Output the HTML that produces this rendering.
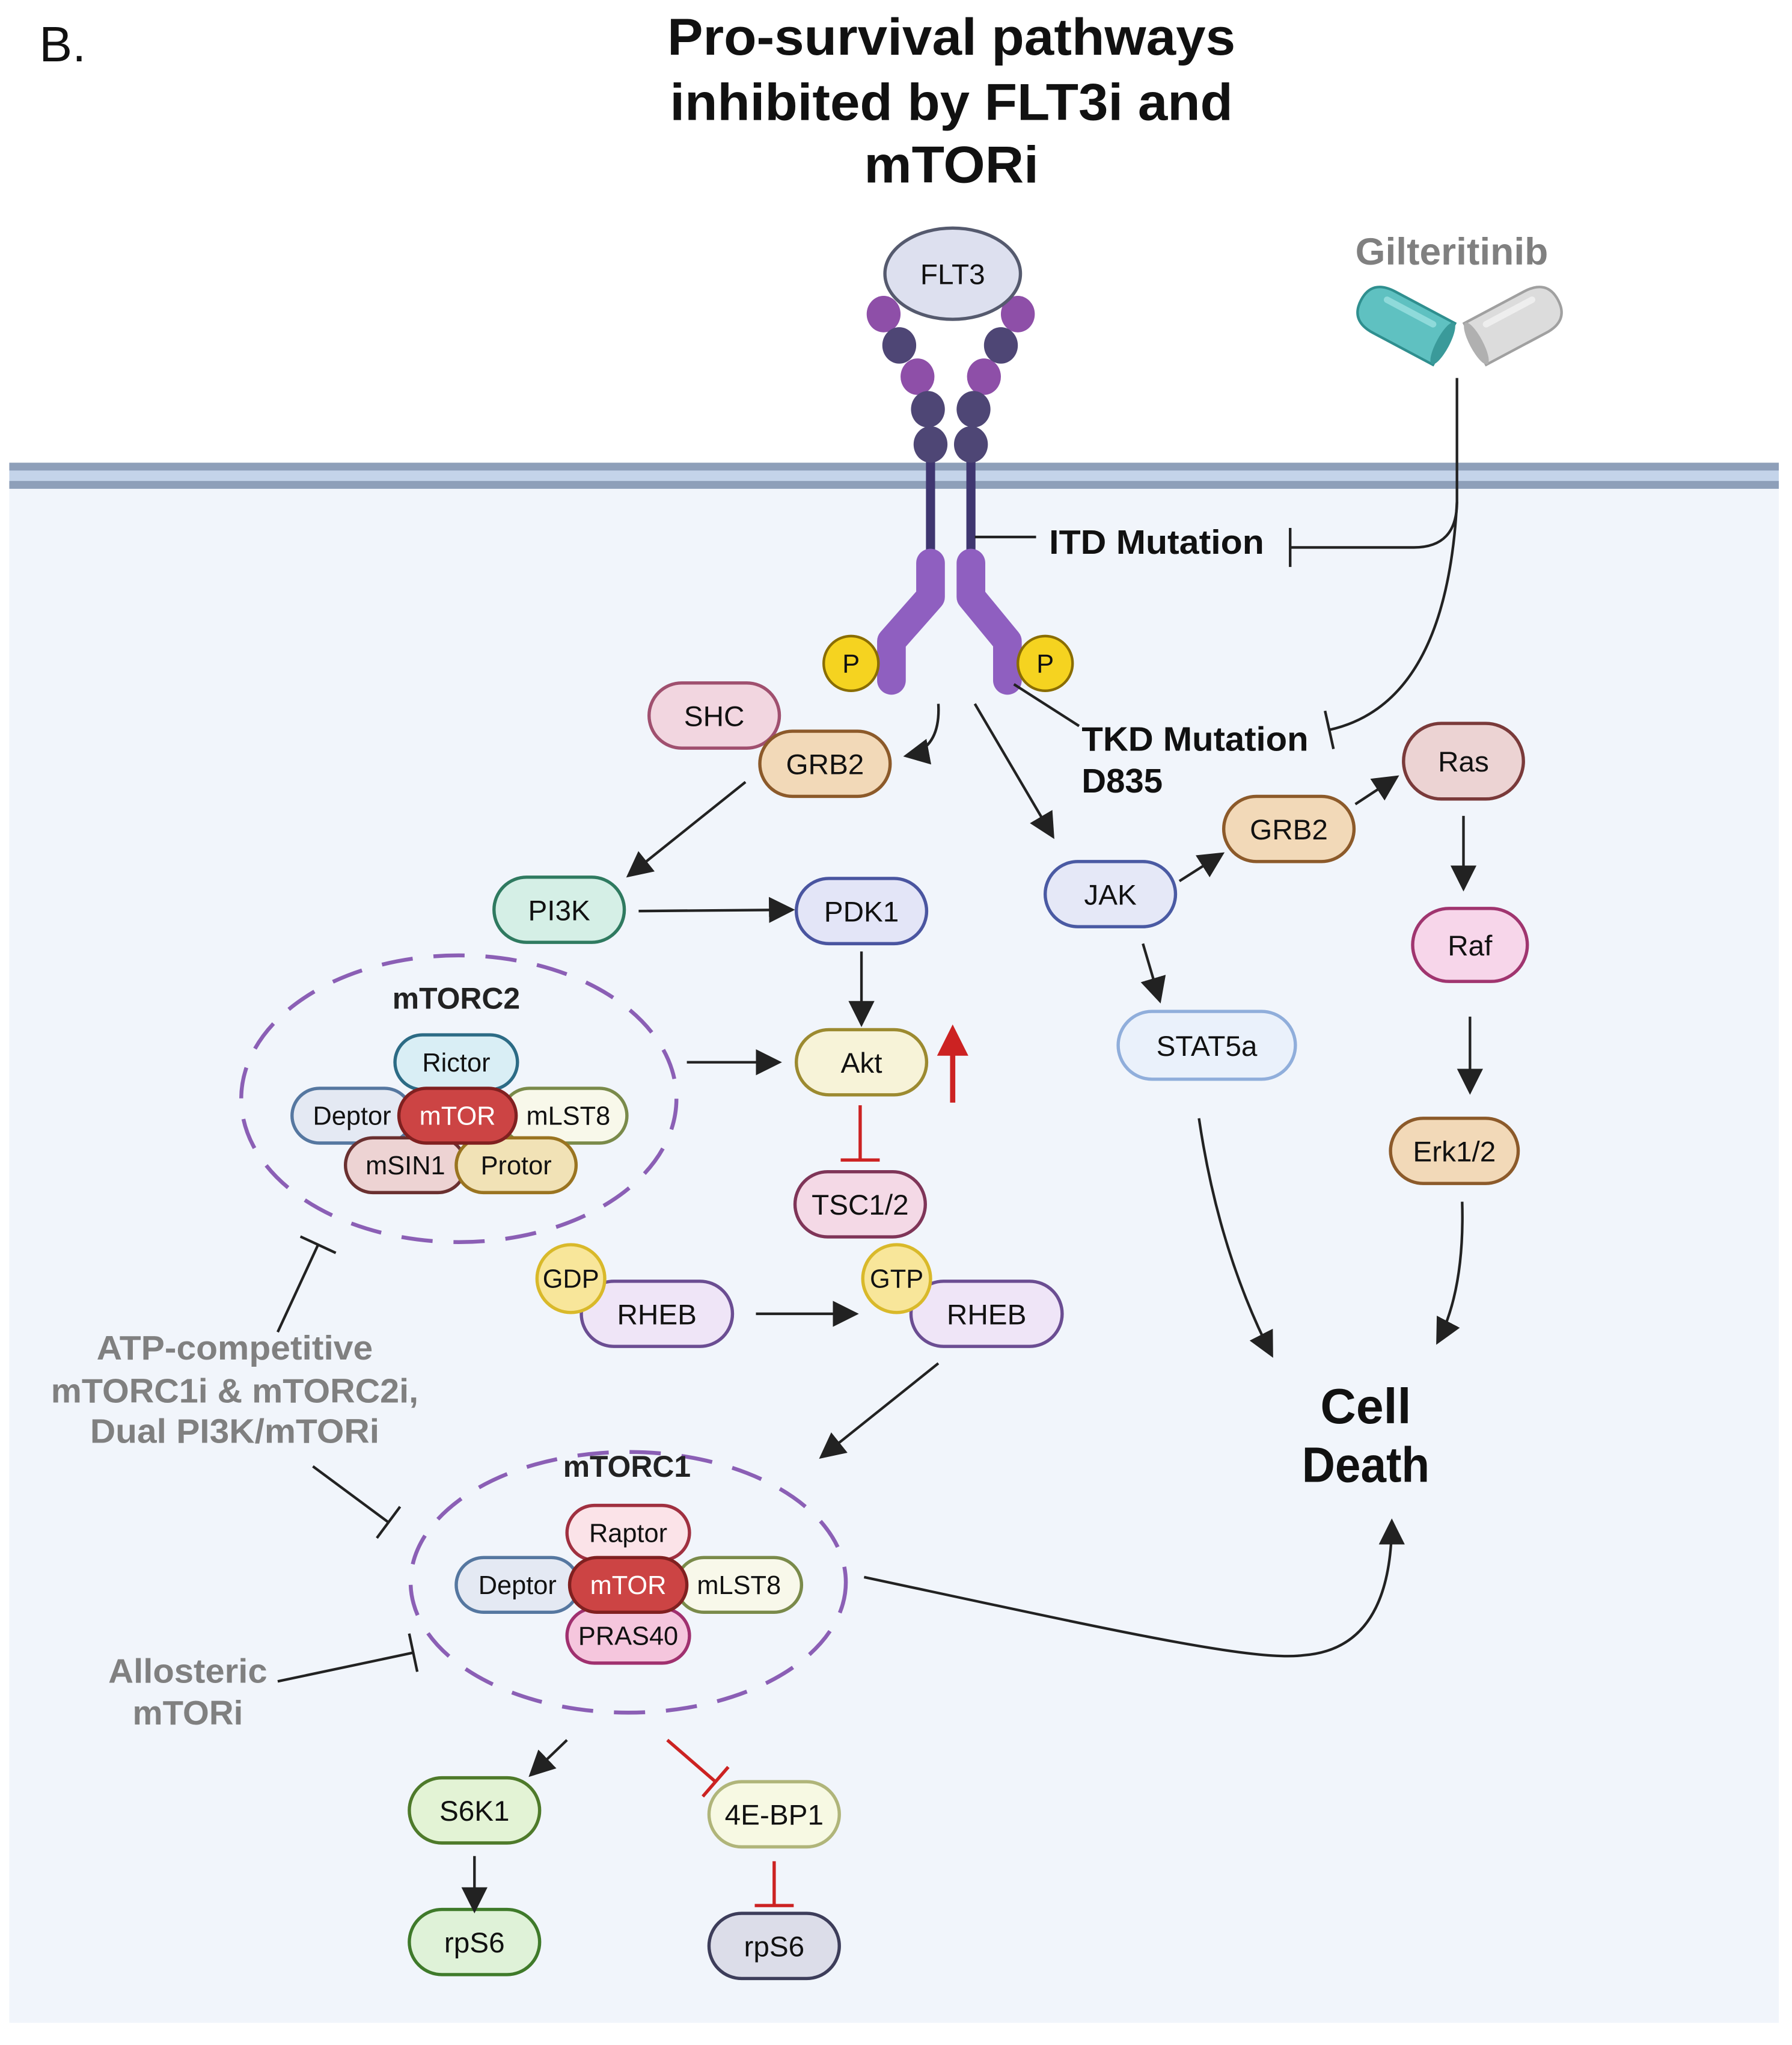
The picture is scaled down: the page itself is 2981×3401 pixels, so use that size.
<!DOCTYPE html>
<html><head><meta charset="utf-8"><style>html,body{margin:0;padding:0;background:#fff}svg{display:block}</style></head>
<body>
<svg width="2981" height="3401" viewBox="0 0 1375 1569" xmlns="http://www.w3.org/2000/svg" font-family="Liberation Sans, sans-serif">
<defs>
<marker id="a" markerUnits="userSpaceOnUse" markerWidth="22" markerHeight="22" refX="18" refY="11" orient="auto"><path d="M0,1 L20,11 L0,21 Z" fill="#222"/></marker>
<marker id="ar" markerUnits="userSpaceOnUse" markerWidth="26" markerHeight="26" refX="20" refY="13" orient="auto"><path d="M0,1 L24,13 L0,25 Z" fill="#cc2222"/></marker>
<marker id="t" markerUnits="userSpaceOnUse" markerWidth="4" markerHeight="30" refX="2" refY="15" orient="auto"><path d="M2,0 L2,30" stroke="#222" stroke-width="2"/></marker>
<marker id="tr" markerUnits="userSpaceOnUse" markerWidth="4" markerHeight="30" refX="2" refY="15" orient="auto"><path d="M2,0 L2,30" stroke="#cc2222" stroke-width="2.5"/></marker>
</defs>
<rect x="0" y="0" width="1375" height="1569" fill="#fff"/>
<rect x="7" y="374" width="1358" height="1178" fill="#f1f5fb"/>
<rect x="7" y="355" width="1358" height="20" fill="#c4d4ea"/>
<rect x="7" y="355" width="1358" height="6" fill="#8e9fb9"/>
<rect x="7" y="369" width="1358" height="6" fill="#8e9fb9"/>

<text x="30" y="47" font-size="38" fill="#111">B.</text>
<g font-weight="bold" font-size="40" text-anchor="middle" fill="#111">
<text x="730" y="42" textLength="436" lengthAdjust="spacingAndGlyphs">Pro-survival pathways</text>
<text x="730" y="92" textLength="432" lengthAdjust="spacingAndGlyphs">inhibited by FLT3i and</text>
<text x="730" y="140" textLength="134" lengthAdjust="spacingAndGlyphs">mTORi</text>
</g>

<g stroke="#3f3670" stroke-width="7"><line x1="714" y1="340" x2="714" y2="435"/><line x1="745" y1="340" x2="745" y2="435"/></g>
<g fill="none" stroke="#8f5fc0" stroke-width="22" stroke-linecap="round" stroke-linejoin="round">
<path d="M714,432 L714,458 L684,492 L684,522"/><path d="M745,432 L745,458 L773,492 L773,522"/></g>
<g fill="#8e4fa8"><ellipse cx="678" cy="241" rx="13" ry="14"/><ellipse cx="781" cy="241" rx="13" ry="14"/><ellipse cx="704" cy="289" rx="13" ry="14"/><ellipse cx="755" cy="289" rx="13" ry="14"/></g>
<g fill="#4e4675"><ellipse cx="690" cy="265" rx="13" ry="14"/><ellipse cx="768" cy="265" rx="13" ry="14"/><ellipse cx="712" cy="314" rx="13" ry="14"/><ellipse cx="747" cy="314" rx="13" ry="14"/><ellipse cx="714" cy="341" rx="13" ry="14"/><ellipse cx="745" cy="341" rx="13" ry="14"/></g>
<ellipse cx="731" cy="210" rx="52" ry="35" fill="#dde0ef" stroke="#555a6e" stroke-width="2.5"/>
<text x="731" y="218" font-size="22" text-anchor="middle" fill="#111">FLT3</text>
<g fill="#f5d320" stroke="#8a6d00" stroke-width="2"><circle cx="653" cy="509" r="21"/><circle cx="802" cy="509" r="21"/></g>
<g font-size="20" text-anchor="middle" fill="#111"><text x="653" y="516">P</text><text x="802" y="516">P</text></g>

<text x="1040" y="203" font-size="29" font-weight="bold" fill="#808080" textLength="148" lengthAdjust="spacingAndGlyphs">Gilteritinib</text>
<g transform="rotate(28 1078 248)"><path d="M1112,230 L1060,230 Q1040,230 1040,248 Q1040,266 1060,266 L1112,266 Z" fill="#5fc1c1" stroke="#2f8f8f" stroke-width="2"/><ellipse cx="1111" cy="248" rx="5" ry="18" fill="#3a9a9a"/><rect x="1055" y="236" width="45" height="5" rx="2.5" fill="#8fdada"/></g>
<g transform="rotate(-28 1162 248)"><path d="M1128,230 L1180,230 Q1200,230 1200,248 Q1200,266 1180,266 L1128,266 Z" fill="#dcdcdc" stroke="#a0a0a0" stroke-width="2"/><ellipse cx="1129" cy="248" rx="5" ry="18" fill="#b0b0b0"/><rect x="1140" y="236" width="45" height="5" rx="2.5" fill="#eeeeee"/></g>
<g fill="none" stroke="#222" stroke-width="2">
<path d="M1118,290 L1118,385 Q1118,420 1085,420 L990,420" marker-end="url(#t)"/>
<path d="M1118,385 Q1110,540 1020,560" marker-end="url(#t)"/>
<line x1="748" y1="412" x2="795" y2="412"/>
<line x1="778" y1="525" x2="828" y2="557"/>
</g>
<g font-weight="bold" font-size="26" fill="#111">
<text x="805" y="425" textLength="165" lengthAdjust="spacingAndGlyphs">ITD Mutation</text>
<text x="830" y="576" textLength="174" lengthAdjust="spacingAndGlyphs">TKD Mutation</text>
<text x="830" y="608">D835</text>
</g>

<g fill="none" stroke="#8b5fb5" stroke-width="3" stroke-dasharray="24,16">
<ellipse cx="352" cy="843" rx="167" ry="110"/>
<ellipse cx="482" cy="1214" rx="167" ry="100"/>
</g>
<g font-weight="bold" font-size="23" text-anchor="middle" fill="#222">
<text x="350" y="774">mTORC2</text><text x="481" y="1133">mTORC1</text></g>

<g font-size="22" text-anchor="middle" fill="#111" stroke-width="2.5">
<rect x="303" y="794" width="94" height="42" rx="21" fill="#d9eef5" stroke="#2c6b85"/><text x="350" y="822" font-size="20">Rictor</text>
<rect x="224" y="835" width="92" height="42" rx="21" fill="#e4e9f3" stroke="#5577a0"/><text x="270" y="863" font-size="20">Deptor</text>
<rect x="385" y="835" width="96" height="42" rx="21" fill="#f8f8ea" stroke="#7a8a4a"/><text x="436" y="863" font-size="20">mLST8</text>
<rect x="265" y="873" width="92" height="42" rx="21" fill="#edd3d3" stroke="#6a3030"/><text x="311" y="901" font-size="20">mSIN1</text>
<rect x="350" y="873" width="92" height="42" rx="21" fill="#f1e2b6" stroke="#9a7420"/><text x="396" y="901" font-size="20">Protor</text>
<rect x="306" y="835" width="90" height="42" rx="21" fill="#cc4444" stroke="#802020"/><text x="351" y="863" font-size="20" fill="#fff">mTOR</text>
<rect x="435" y="1155" width="94" height="42" rx="21" fill="#fbe3e8" stroke="#a03040"/><text x="482" y="1183" font-size="20">Raptor</text>
<rect x="435" y="1234" width="94" height="42" rx="21" fill="#f5c6dd" stroke="#a0306f"/><text x="482" y="1262" font-size="20">PRAS40</text>
<rect x="350" y="1195" width="94" height="42" rx="21" fill="#e4e9f3" stroke="#5577a0"/><text x="397" y="1223" font-size="20">Deptor</text>
<rect x="519" y="1195" width="96" height="42" rx="21" fill="#f8f8ea" stroke="#7a8a4a"/><text x="567" y="1223" font-size="20">mLST8</text>
<rect x="437" y="1195" width="90" height="42" rx="21" fill="#cc4444" stroke="#802020"/><text x="482" y="1223" font-size="20" fill="#fff">mTOR</text>

<rect x="498" y="524" width="100" height="50" rx="25" fill="#f2d6e0" stroke="#a0506f"/><text x="548" y="557">SHC</text>
<rect x="583" y="561" width="100" height="50" rx="25" fill="#f2d9b8" stroke="#8c5a2a"/><text x="633" y="594">GRB2</text>
<rect x="379" y="673" width="100" height="50" rx="25" fill="#d5efe6" stroke="#2f7a60"/><text x="429" y="706">PI3K</text>
<rect x="611" y="674" width="100" height="50" rx="25" fill="#e3e5f7" stroke="#4a55a0"/><text x="661" y="707">PDK1</text>
<rect x="611" y="790" width="100" height="50" rx="25" fill="#f7f3d8" stroke="#9c8a30"/><text x="661" y="823">Akt</text>
<rect x="610" y="899" width="100" height="50" rx="25" fill="#f4d9e6" stroke="#7f3558"/><text x="660" y="932">TSC1/2</text>
<rect x="446" y="983" width="116" height="50" rx="25" fill="#efe5f7" stroke="#6b4d92"/><text x="504" y="1016">RHEB</text>
<circle cx="438" cy="981" r="26" fill="#f8e69a" stroke="#d9b92a"/><text x="438" y="988" font-size="20">GDP</text>
<rect x="699" y="983" width="116" height="50" rx="25" fill="#efe5f7" stroke="#6b4d92"/><text x="757" y="1016">RHEB</text>
<circle cx="688" cy="981" r="26" fill="#f8e69a" stroke="#d9b92a"/><text x="688" y="988" font-size="20">GTP</text>
<rect x="802" y="661" width="100" height="50" rx="25" fill="#e5e8f7" stroke="#4a5aa3"/><text x="852" y="694">JAK</text>
<rect x="858" y="776" width="136" height="52" rx="26" fill="#eaf1fb" stroke="#90aedb"/><text x="926" y="810">STAT5a</text>
<rect x="939" y="611" width="100" height="50" rx="25" fill="#f2d9b8" stroke="#8c5a2a"/><text x="989" y="644">GRB2</text>
<rect x="1077" y="555" width="92" height="58" rx="29" fill="#ecd3d3" stroke="#7a3a3a"/><text x="1123" y="592">Ras</text>
<rect x="1084" y="697" width="88" height="56" rx="28" fill="#f7d6ea" stroke="#a0356f"/><text x="1128" y="733">Raf</text>
<rect x="1067" y="858" width="98" height="50" rx="25" fill="#f2d9b8" stroke="#8c5a2a"/><text x="1116" y="891">Erk1/2</text>
<rect x="314" y="1364" width="100" height="50" rx="25" fill="#e3f3d5" stroke="#4e7a2a"/><text x="364" y="1397">S6K1</text>
<rect x="314" y="1465" width="100" height="50" rx="25" fill="#dff2d8" stroke="#3f7a2a"/><text x="364" y="1498">rpS6</text>
<rect x="544" y="1367" width="100" height="50" rx="25" fill="#f7f9e3" stroke="#b0b57a"/><text x="594" y="1400">4E-BP1</text>
<rect x="544" y="1468" width="100" height="50" rx="25" fill="#dcdde9" stroke="#3d3d5a"/><text x="594" y="1501">rpS6</text>
</g>

<g fill="none" stroke="#222" stroke-width="2">
<path d="M720,540 Q722,575 695,580" marker-end="url(#a)"/>
<line x1="572" y1="600" x2="482" y2="672" marker-end="url(#a)"/>
<line x1="490" y1="699" x2="608" y2="698" marker-end="url(#a)"/>
<line x1="661" y1="730" x2="661" y2="786" marker-end="url(#a)"/>
<line x1="527" y1="815" x2="598" y2="815" marker-end="url(#a)"/>
<line x1="748" y1="540" x2="808" y2="642" marker-end="url(#a)"/>
<line x1="905" y1="676" x2="938" y2="655" marker-end="url(#a)"/>
<line x1="1040" y1="617" x2="1072" y2="596" marker-end="url(#a)"/>
<line x1="1123" y1="626" x2="1123" y2="682" marker-end="url(#a)"/>
<line x1="1128" y1="780" x2="1128" y2="838" marker-end="url(#a)"/>
<line x1="877" y1="724" x2="890" y2="768" marker-end="url(#a)"/>
<line x1="580" y1="1008" x2="657" y2="1008" marker-end="url(#a)"/>
<line x1="720" y1="1046" x2="630" y2="1118" marker-end="url(#a)"/>
<path d="M920,858 Q935,960 976,1040" marker-end="url(#a)"/>
<path d="M1122,922 Q1124,990 1103,1030" marker-end="url(#a)"/>
<path d="M663,1210 C850,1250 960,1275 1000,1270 Q1068,1265 1068,1167" marker-end="url(#a)"/>
<line x1="435" y1="1335" x2="407" y2="1362" marker-end="url(#a)"/>
<line x1="364" y1="1424" x2="364" y2="1466" marker-end="url(#a)"/>
<line x1="213" y1="1022" x2="244" y2="955" marker-end="url(#t)"/>
<line x1="240" y1="1125" x2="298" y2="1168" marker-end="url(#t)"/>
<line x1="213" y1="1290" x2="317" y2="1268" marker-end="url(#t)"/>
</g>
<g fill="none" stroke="#cc2222" stroke-width="2.5">
<line x1="731" y1="846" x2="731" y2="790" stroke-width="4" marker-end="url(#ar)"/>
<line x1="660" y1="848" x2="660" y2="890" marker-end="url(#tr)"/>
<line x1="512" y1="1335" x2="549" y2="1367" marker-end="url(#tr)"/>
<line x1="594" y1="1428" x2="594" y2="1462" marker-end="url(#tr)"/>
</g>

<g font-weight="bold" font-size="26" text-anchor="middle" fill="#808080">
<text x="180" y="1043" textLength="212" lengthAdjust="spacingAndGlyphs">ATP-competitive</text>
<text x="180" y="1076" textLength="282" lengthAdjust="spacingAndGlyphs">mTORC1i &amp; mTORC2i,</text>
<text x="180" y="1107" textLength="222" lengthAdjust="spacingAndGlyphs">Dual PI3K/mTORi</text>
<text x="144" y="1291" textLength="122" lengthAdjust="spacingAndGlyphs">Allosteric</text>
<text x="144" y="1323">mTORi</text>
</g>
<g font-weight="bold" font-size="38" text-anchor="middle" fill="#111">
<text x="1048" y="1092">Cell</text><text x="1048" y="1137" textLength="98" lengthAdjust="spacingAndGlyphs">Death</text>
</g>
</svg>
</body></html>
